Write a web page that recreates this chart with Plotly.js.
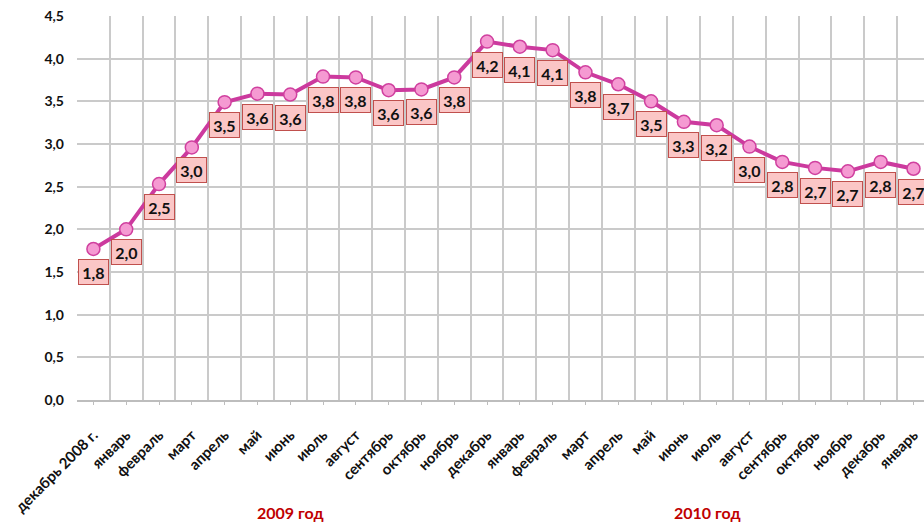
<!DOCTYPE html>
<html>
<head>
<meta charset="utf-8">
<script src="https://cdn.plot.ly/plotly-3.0.1.min.js"></script>
<style>html,body{margin:0;padding:0;background:#fff;}#chart{width:924px;height:525px;}</style>
</head>
<body>
<div id="chart"></div>
<script>
// Month labels (Dec 2008 .. Jan 2011)
const months = ["декабрь 2008 г.", "январь", "февраль", "март", "апрель", "май", "июнь", "июль",
  "август", "сентябрь", "октябрь", "ноябрь", "декабрь",
  "январь", "февраль", "март", "апрель", "май", "июнь", "июль",
  "август", "сентябрь", "октябрь", "ноябрь", "декабрь", "январь"];
// Values
const values = [1.77, 2.00, 2.53, 2.96, 3.49, 3.59, 3.58, 3.79, 3.78, 3.63, 3.64, 3.78, 4.20,
  4.14, 4.10, 3.84, 3.70, 3.50, 3.26, 3.22, 2.97, 2.79, 2.72, 2.68, 2.79, 2.71];
const yearLabels = ["2009 год", "2010 год"];

const idx = months.map((_, i) => i);
const fmt = v => v.toFixed(1).replace('.', ',');

const trace = {
  x: idx, y: values, type: 'scatter', mode: 'lines+markers',
  line: {color: '#cc3a9e', width: 4},
  marker: {size: 13, color: '#f59ad2', line: {color: '#d0409f', width: 1.5}},
  hoverinfo: 'skip', cliponaxis: false
};

const labelAnn = values.map((v, i) => ({
  x: i, y: v, xref: 'x', yref: 'y', text: fmt(v), showarrow: false,
  yshift: -23, width: 26, height: 21, borderpad: 1.5, borderwidth: 1,
  bgcolor: '#fbc6c6', bordercolor: '#c0504d',
  font: {family: 'Lato, "Open Sans", sans-serif', size: 16, weight: 'bold', color: '#111'}
}));

const yearAnn = [
  {text: yearLabels[0], x: 0.2515, y: -0.294},
  {text: yearLabels[1], x: 0.744, y: -0.292}
].map(a => Object.assign({xref: 'paper', yref: 'paper', showarrow: false,
  xanchor: 'center', yanchor: 'middle',
  font: {family: 'Lato, "Open Sans", sans-serif', size: 16, weight: 'bold', color: '#c00000'}}, a));

const layout = {
  width: 924, height: 525,
  margin: {l: 77, r: 0, t: 16, b: 125},
  paper_bgcolor: '#fff', plot_bgcolor: '#fff',
  separators: ', ',
  showlegend: false,
  xaxis: {
    range: [-0.5, 25.32], tickmode: 'array', tickvals: idx, ticktext: months,
    tickangle: -45, showgrid: false, zeroline: false,
    showline: true, linecolor: '#bdbdbd', linewidth: 1.5,
    ticks: 'outside', ticklen: 3, tickcolor: '#bdbdbd', ticklabelstandoff: 16,
    tickfont: {family: 'Lato, "Open Sans", sans-serif', size: 15, weight: 'bold', color: '#111'},
    minor: {tick0: 0.5, dtick: 1, showgrid: true, gridcolor: '#cacaca', gridwidth: 2, ticks: ''}
  },
  yaxis: {
    range: [0, 4.5], tick0: 0, dtick: 0.5, tickformat: '.1f',
    showgrid: true, gridcolor: '#cacaca', gridwidth: 2, zeroline: false,
    showline: false, ticks: '', ticklabelstandoff: 12,
    tickfont: {family: 'Lato, "Open Sans", sans-serif', size: 14, weight: 'bold', color: '#111'}
  },
  annotations: labelAnn.concat(yearAnn)
};

Plotly.newPlot('chart', [trace], layout, {displayModeBar: false, staticPlot: true});
</script>
</body>
</html>
